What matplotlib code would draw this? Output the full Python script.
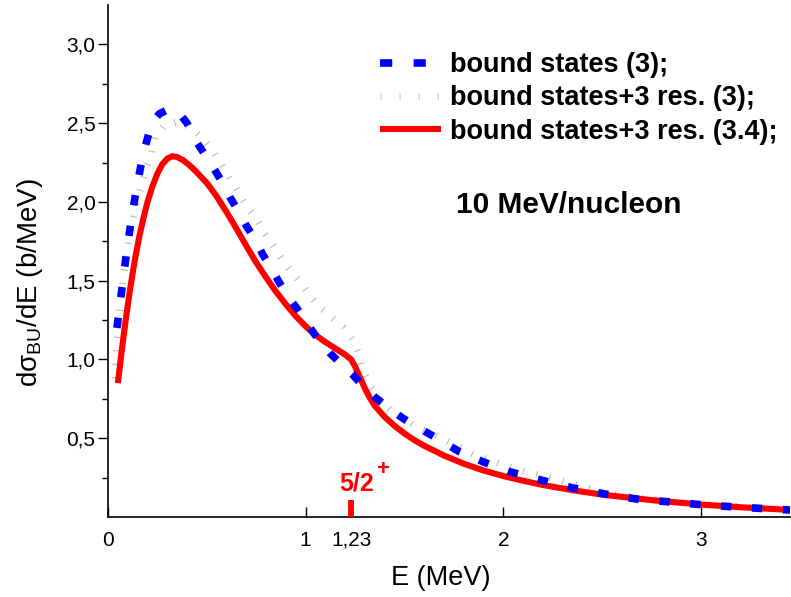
import matplotlib
matplotlib.use("Agg")
import matplotlib.pyplot as plt
from matplotlib.lines import Line2D

plt.rcParams['font.family'] = ['Liberation Sans', 'DejaVu Sans']
plt.rcParams['mathtext.fontset'] = 'custom'
plt.rcParams['mathtext.rm'] = 'Liberation Sans'
plt.rcParams['mathtext.it'] = 'Liberation Sans:italic'
plt.rcParams['mathtext.bf'] = 'Liberation Sans:bold'

# --- breakup cross section dσ/dE (b/MeV) vs relative energy E (MeV) ---
E_bound = [0.045, 0.052, 0.073, 0.094, 0.118, 0.145, 0.177, 0.221, 0.26, 0.31,
           0.35, 0.40, 0.443, 0.49, 0.533, 0.58, 0.617, 0.66, 0.70, 0.75,
           0.782, 0.825, 0.866, 0.91, 0.958, 1.0, 1.05, 1.09, 1.123, 1.18,
           1.237, 1.29, 1.35, 1.42, 1.494, 1.565, 1.637, 1.71, 1.78, 1.86,
           1.94, 2.033, 2.193, 2.35, 2.514, 2.674, 2.893, 3.03, 3.21, 3.45]
sig_bound = [1.20, 1.268, 1.475, 1.68, 1.89, 2.09, 2.30, 2.50, 2.56, 2.59,
             2.58, 2.50, 2.39, 2.30, 2.217, 2.12, 2.03, 1.94, 1.848, 1.75,
             1.668, 1.58, 1.49, 1.40, 1.32, 1.24, 1.152, 1.09, 1.04, 0.97,
             0.905, 0.83, 0.761, 0.69, 0.625, 0.57, 0.519, 0.465, 0.413, 0.37,
             0.329, 0.287, 0.234, 0.185, 0.146, 0.114, 0.09, 0.075, 0.061, 0.044]

E_res3 = [0.035, 0.044, 0.07, 0.10, 0.125, 0.153, 0.17, 0.195, 0.22, 0.238,
          0.288, 0.364, 0.423, 0.48, 0.533, 0.617, 0.70, 0.752, 0.794, 0.836,
          0.879, 0.929, 0.98, 1.022, 1.072, 1.131, 1.19, 1.24, 1.266, 1.283,
          1.325, 1.393, 1.452, 1.578, 1.713, 1.856, 2.084, 2.25, 2.5, 2.75,
          3.0, 3.45]
sig_res3 = [0.88, 1.10, 1.45, 1.72, 1.88, 2.02, 2.11, 2.22, 2.31, 2.41,
            2.49, 2.51, 2.47, 2.40, 2.32, 2.15, 1.975, 1.89, 1.795, 1.72,
            1.637, 1.553, 1.48, 1.405, 1.331, 1.268, 1.204, 1.12, 1.046, 0.95,
            0.835, 0.72, 0.656, 0.56, 0.487, 0.392, 0.297, 0.245, 0.155, 0.11,
            0.08, 0.047]

E_res34 = [0.05, 0.065, 0.08, 0.095, 0.11, 0.125, 0.14, 0.16, 0.18, 0.20,
           0.225, 0.25, 0.275, 0.30, 0.325, 0.35, 0.38, 0.41, 0.44, 0.50,
           0.55, 0.60, 0.65, 0.70, 0.75, 0.80, 0.85, 0.90, 0.95, 1.00,
           1.05, 1.10, 1.15, 1.20, 1.23, 1.25, 1.275, 1.30, 1.325, 1.35,
           1.40, 1.45, 1.50, 1.55, 1.60, 1.70, 1.80, 1.90, 2.00, 2.10,
           2.20, 2.35, 2.50, 2.75, 3.00, 3.20, 3.45]
sig_res34 = [0.85, 1.01, 1.16, 1.30, 1.43, 1.55, 1.66, 1.79, 1.90, 2.00,
             2.10, 2.18, 2.24, 2.275, 2.29, 2.285, 2.265, 2.235, 2.20, 2.12,
             2.035, 1.935, 1.83, 1.72, 1.615, 1.52, 1.43, 1.35, 1.275, 1.21,
             1.155, 1.11, 1.07, 1.03, 1.00, 0.955, 0.885, 0.815, 0.755, 0.705,
             0.635, 0.578, 0.53, 0.488, 0.452, 0.39, 0.338, 0.295, 0.26, 0.23,
             0.203, 0.17, 0.142, 0.107, 0.079, 0.062, 0.045]

labels = ['bound states (3);', 'bound states+3 res. (3);',
          'bound states+3 res. (3.4);']

xticks = [0, 1, 1.23, 2, 3]
xticklabels = ['0', '1', '1,23', '2', '3']
yticks = [0.5, 1.0, 1.5, 2.0, 2.5, 3.0]
yticklabels = ['0,5', '1,0', '1,5', '2,0', '2,5', '3,0']

E_level = 1.23          # 5/2+ resonance position

fig = plt.figure(figsize=(7.91, 5.97), dpi=100)
ax = fig.add_axes([108 / 791, 1 - 517 / 597, (790 - 108) / 791, (517 - 5) / 597])

ax.plot(E_res3, sig_res3, color='#b4b4b4', lw=5.0, dashes=(0.15, 1.8),
        solid_capstyle='butt', dash_capstyle='butt', zorder=2)
ax.plot(E_res34, sig_res34, color='#ff0000', lw=4.4, zorder=3,
        solid_capstyle='butt', solid_joinstyle='round')
ax.plot(E_bound, sig_bound, color='#0000ff', lw=5.5, dashes=(1.35, 2.7),
        dash_capstyle='butt', zorder=4)

# resonance marker on the energy axis
ax.plot([E_level, E_level], [0, 0.105], color='#ff0000', lw=4.2,
        solid_capstyle='butt', zorder=5, clip_on=False)
ax.text(1.26, 0.17, '5/2', color='#ff0000', fontsize=18,
        fontweight='bold', ha='center', va='baseline')
ax.annotate('+', xy=(1.26, 0.17), xytext=(14, 11), textcoords='offset points',
            color='#ff0000', fontsize=16, fontweight='bold',
            ha='left', va='baseline')

ax.text(0.51, 0.609, '10 MeV/nucleon', transform=ax.transAxes,
        fontsize=21.5, fontweight='bold', ha='left', va='center')

ax.set_xlim(0, 3.45)
ax.set_ylim(0, 3.25)

ax.spines['top'].set_visible(False)
ax.spines['right'].set_visible(False)
for s in ('left', 'bottom'):
    ax.spines[s].set_linewidth(1.2)

ax.set_xticks(xticks)
ax.set_xticklabels(xticklabels)
ax.set_yticks(yticks)
ax.set_yticklabels(yticklabels)
ax.set_yticks([0.25, 0.75, 1.25, 1.75, 2.25, 2.75], minor=True)
ax.tick_params(axis='x', direction='in', length=7, width=1.0, labelsize=15, pad=10)
ax.tick_params(axis='y', which='major', direction='out', length=7, width=1.0,
               labelsize=15, pad=2)
ax.tick_params(axis='y', which='minor', direction='out', length=4, width=1.0)
ax.xaxis.get_major_ticks()[2].tick1line.set_visible(False)

ax.set_xlabel('E (MeV)', fontsize=19.5)
ax.xaxis.set_label_coords((441 - 108) / 682, -(578 - 517) / 512)
ax.xaxis.label.set_va('center')
ax.set_ylabel(r'dσ$_{\mathrm{BU}}$/dE (b/MeV)', fontsize=20)
ax.yaxis.set_label_coords(-(108 - 30) / 682, (517 - 283) / 512)
ax.yaxis.label.set_va('center')

handles = [
    Line2D([], [], color='#0000ff', lw=5.5, dashes=(1.6, 2.8), dash_capstyle='butt'),
    Line2D([], [], color='#c8c8c8', lw=5.0, dashes=(0.15, 2.6), dash_capstyle='butt'),
    Line2D([], [], color='#ff0000', lw=4.4, solid_capstyle='butt'),
]
leg = fig.legend(handles, labels, loc='upper left',
                 bbox_to_anchor=(380 / 791, 1 - 52 / 597), frameon=False,
                 prop={'weight': 'bold', 'size': 19.5}, handlelength=2.25,
                 handletextpad=0.33, labelspacing=0.27, borderaxespad=0,
                 borderpad=0)

fig.savefig('out.png', dpi=100)
